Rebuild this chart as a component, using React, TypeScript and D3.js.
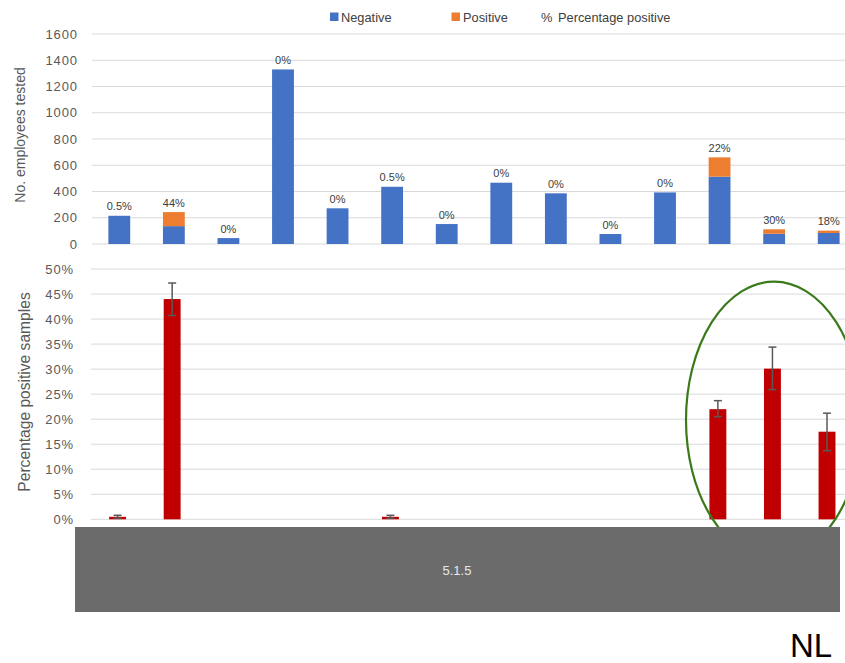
import React from "react";
import * as d3 from "d3";

const categories = ["1", "2", "3", "4", "5", "6", "7", "8", "9", "10", "11", "12", "13", "14"];
const negative = [215, 136, 45, 1330, 272, 436, 152, 467, 386, 76, 393, 513, 78, 84];
const positive = [1, 107, 0, 0, 0, 2, 0, 0, 0, 0, 0, 147, 34, 18];
const pctLabels = ["0.5%", "44%", "0%", "0%", "0%", "0.5%", "0%", "0%", "0%", "0%", "0%", "22%", "30%", "18%"];
const pctPositive = [0.5, 44, 0, 0, 0, 0.5, 0, 0, 0, 0, 0, 22, 30.1, 17.5];
const errLow: (number | null)[] = [0.2, 40.7, null, null, null, 0.2, null, null, null, null, null, 20.5, 25.9, 13.7];
const errHigh: (number | null)[] = [0.8, 47.2, null, null, null, 0.8, null, null, null, null, null, 23.7, 34.4, 21.2];
const topTicks = [0, 200, 400, 600, 800, 1000, 1200, 1400, 1600];
const bottomTicks = [0, 5, 10, 15, 20, 25, 30, 35, 40, 45, 50];
const groupLabel = "5.1.5";
const countryLabel = "NL";

const FONT = "'Liberation Sans', Arial, sans-serif";
const BLUE = "#4472C4";
const ORANGE = "#ED7D31";
const RED = "#C00000";
const GRID = "#d9d9d9";

export default function App() {
  const W = 845;
  const H = 663;

  const xTop = d3.scaleBand<string>().domain(categories).range([92, 856]).paddingInner(0.6).paddingOuter(0.3);
  const xBot = d3.scaleBand<string>().domain(categories).range([90.3, 854.3]).paddingInner(0.69).paddingOuter(0.345);
  const yTop = d3.scaleLinear().domain([0, 1600]).range([244, 34]);
  const yBot = d3.scaleLinear().domain([0, 50]).range([519.3, 269]);

  const stackData = categories.map((c, i) => ({ c, negative: negative[i], positive: positive[i] }));
  const stacked = d3.stack<any>().keys(["negative", "positive"])(stackData);
  const colors = [BLUE, ORANGE];

  return (
    <svg width={W} height={H} style={{ position: "absolute", left: 0, top: 0, display: "block", background: "#fff" }} fontFamily={FONT}>
      <rect x={0} y={0} width={W} height={H} fill="#fff" />
      {/* Legend */}
      <g fontSize={12.8} fill="#404040">
        <rect x={330} y={12.5} width={8.5} height={8.5} fill={BLUE} />
        <text x={341} y={21.5}>Negative</text>
        <rect x={451.5} y={12.5} width={8.5} height={8.5} fill={ORANGE} />
        <text x={463} y={21.5}>Positive</text>
        <text x={541} y={21.5}>%</text>
        <text x={558} y={21.5}>Percentage positive</text>
      </g>

      {/* Top chart grid */}
      {topTicks.map((t) => (
        <g key={"tt" + t}>
          <line x1={92} x2={W} y1={yTop(t)} y2={yTop(t)} stroke={GRID} strokeWidth={1} />
          <text x={78} y={yTop(t) + 4.5} textAnchor="end" fontSize={13} letterSpacing={0.9} fill="#595959">
            {t}
          </text>
        </g>
      ))}
      <text transform={`translate(25,135) rotate(-90)`} textAnchor="middle" fontSize={14} fill="#595959">
        No. employees tested
      </text>

      {/* Stacked bars */}
      {stacked.map((series, si) => (
        <g key={"s" + si} fill={colors[si]}>
          {series.map((d, i) => {
            const h = yTop(d[0]) - yTop(d[1]);
            if (h <= 0.3) return null;
            return (
              <rect key={i} x={xTop(categories[i])!} y={yTop(d[1])} width={xTop.bandwidth()} height={h} />
            );
          })}
        </g>
      ))}
      {categories.map((c, i) => (
        <text
          key={"lbl" + i}
          x={xTop(c)! + xTop.bandwidth() / 2}
          y={yTop(negative[i] + positive[i]) - 5.5}
          textAnchor="middle"
          fontSize={11}
          fill="#404040"
        >
          {pctLabels[i]}
        </text>
      ))}

      {/* Bottom chart grid */}
      {bottomTicks.map((t) => (
        <g key={"bt" + t}>
          <line x1={91} x2={W} y1={yBot(t)} y2={yBot(t)} stroke={GRID} strokeWidth={1} />
          <text x={74} y={yBot(t) + 4.5} textAnchor="end" fontSize={13} letterSpacing={0.9} fill="#595959">
            {t + "%"}
          </text>
        </g>
      ))}
      <text transform={`translate(30,392) rotate(-90)`} textAnchor="middle" fontSize={15.6} fill="#595959">
        Percentage positive samples
      </text>

      {/* Percentage bars */}
      {categories.map((c, i) => {
        const v = pctPositive[i];
        if (v <= 0) return null;
        const h = Math.max(yBot(0) - yBot(v), 1.2);
        return <rect key={"pb" + i} x={xBot(c)!} y={yBot(0) - h} width={xBot.bandwidth()} height={h} fill={RED} />;
      })}
      {categories.map((c, i) => {
        const lo = errLow[i];
        const hi = errHigh[i];
        if (lo == null || hi == null) return null;
        const cx = xBot(c)! + xBot.bandwidth() / 2;
        return (
          <g key={"eb" + i} stroke="#595959" strokeWidth={1.5}>
            <line x1={cx} x2={cx} y1={yBot(lo)} y2={yBot(hi)} />
            <line x1={cx - 4} x2={cx + 4} y1={yBot(lo)} y2={yBot(lo)} />
            <line x1={cx - 4} x2={cx + 4} y1={yBot(hi)} y2={yBot(hi)} />
          </g>
        );
      })}

      {/* Green highlight ellipse */}
      <ellipse cx={774} cy={420} rx={88} ry={138.3} fill="none" stroke="#3a7a1a" strokeWidth={2.2} />

      {/* Gray category box */}
      <rect x={75} y={527} width={765} height={85} fill="#6b6b6b" />
      <text x={457} y={574.5} textAnchor="middle" fontSize={13} fill="#e8e8e8">
        {groupLabel}
      </text>

      <text x={790} y={657} fontSize={33} fill="#000">
        {countryLabel}
      </text>
    </svg>
  );
}
